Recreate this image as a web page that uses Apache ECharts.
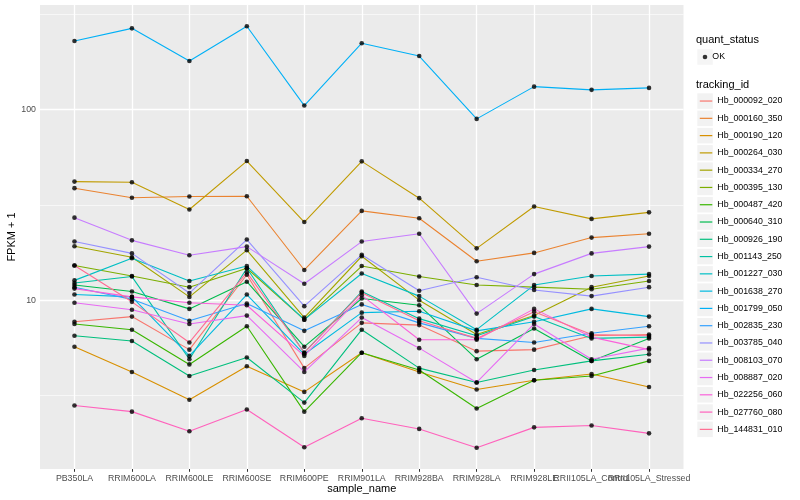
<!DOCTYPE html>
<html><head><meta charset="utf-8">
<script src="https://cdn.jsdelivr.net/npm/echarts@6/dist/echarts.min.js"></script>
<style>html,body{margin:0;padding:0;background:#fff}#c{width:800px;height:500px}</style>
</head><body><div id="c"></div>
<script>
const samples = ['PB350LA','RRIM600LA','RRIM600LE','RRIM600SE','RRIM600PE','RRIM901LA','RRIM928BA','RRIM928LA','RRIM928LE','RRII105LA_Control','RRII105LA_Stressed'];
const yTicks = [10, 100];
const trackingIds = ['Hb_000092_020','Hb_000160_350','Hb_000190_120','Hb_000264_030','Hb_000334_270','Hb_000395_130','Hb_000487_420','Hb_000640_310','Hb_000926_190','Hb_001143_250','Hb_001227_030','Hb_001638_270','Hb_001799_050','Hb_002835_230','Hb_003785_040','Hb_008103_070','Hb_008887_020','Hb_022256_060','Hb_027760_080','Hb_144831_010'];
const colors = ['#F8766D','#EA8331','#D89000','#C09B00','#A3A500','#7CAE00','#39B600','#00BB4E','#00BF7D','#00C1A3','#00BFC4','#00BAE0','#00B0F6','#35A2FF','#9590FF','#C77CFF','#E76BF3','#FA62DB','#FF62BC','#FF6C91'];

const hb_000092_020 = [7.7, 8.2, 5.5, 13.6, 4.4, 7.6, 7.4, 5.4, 5.5, 6.5, 6.6];
const hb_000160_350 = [38.7, 34.5, 35.0, 35.1, 14.4, 29.4, 26.9, 16.0, 17.7, 21.3, 22.3];
const hb_000190_120 = [5.7, 4.2, 3.0, 4.5, 3.3, 5.3, 4.2, 3.4, 3.8, 4.1, 3.5];
const hb_000264_030 = [41.9, 41.6, 29.9, 53.7, 25.7, 53.5, 34.3, 18.7, 31.0, 26.7, 28.9];
const hb_000334_270 = [19.2, 16.8, 10.4, 18.3, 8.1, 17.0, 10.0, 6.6, 8.3, 11.7, 13.4];
const hb_000395_130 = [15.2, 13.4, 11.7, 14.7, 7.9, 15.1, 13.3, 12.0, 11.7, 11.4, 12.6];
const hb_000487_420 = [7.5, 7.0, 4.6, 7.3, 2.6, 5.3, 4.3, 2.7, 3.8, 4.0, 4.8];
const hb_000640_310 = [12.0, 11.1, 9.0, 12.5, 5.7, 10.2, 9.4, 4.9, 7.1, 4.8, 6.3];
const hb_000926_190 = [6.5, 6.1, 4.0, 5.0, 2.9, 7.0, 4.4, 3.7, 4.3, 4.8, 5.2];
const hb_001143_250 = [12.3, 13.3, 4.9, 14.7, 5.3, 11.1, 8.0, 6.5, 8.2, 6.3, 6.4];
const hb_001227_030 = [12.7, 16.6, 12.6, 15.1, 7.9, 13.8, 10.5, 7.0, 12.0, 13.4, 13.7];
const hb_001638_270 = [10.7, 10.4, 5.1, 10.7, 5.2, 8.6, 8.75, 6.9, 7.7, 9.0, 8.2];
const hb_001799_050 = [229, 267, 180, 274, 105, 223, 191, 89.4, 132, 127, 130];
const hb_002835_230 = [11.7, 10.1, 7.8, 9.6, 6.9, 9.5, 7.6, 6.3, 6.0, 6.7, 7.3];
const hb_003785_040 = [20.3, 17.6, 10.9, 20.8, 9.3, 17.3, 11.2, 13.2, 11.3, 10.5, 11.7];
const hb_008103_070 = [27.1, 20.6, 17.2, 19.1, 12.2, 20.3, 22.3, 8.5, 13.7, 17.6, 19.1];
const hb_008887_020 = [9.7, 8.9, 7.5, 8.3, 4.2, 8.1, 5.6, 3.7, 7.5, 4.9, 5.6];
const hb_022256_060 = [11.5, 10.4, 9.7, 9.4, 5.1, 10.6, 6.2, 6.2, 9.0, 6.4, 5.5];
const hb_027760_080 = [2.8, 2.6, 2.05, 2.67, 1.69, 2.4, 2.11, 1.68, 2.15, 2.2, 2.0];
const hb_144831_010 = [15.2, 9.8, 6.0, 14.0, 5.3, 10.95, 7.8, 6.3, 8.7, 6.6, 6.5];

const seriesValues = [hb_000092_020, hb_000160_350, hb_000190_120, hb_000264_030, hb_000334_270, hb_000395_130, hb_000487_420, hb_000640_310, hb_000926_190, hb_001143_250, hb_001227_030, hb_001638_270, hb_001799_050, hb_002835_230, hb_003785_040, hb_008103_070, hb_008887_020, hb_022256_060, hb_027760_080, hb_144831_010];

const FONT = 'Liberation Sans, Arial, sans-serif';
const chart = echarts.init(document.getElementById('c'), null, {renderer: 'canvas'});

const series = [];
series.push({
  type: 'line', name: '__grid', data: [], silent: true, animation: false,
  markLine: {
    silent: true, animation: false, symbol: ['none', 'none'], z: 1,
    label: {show: false}, emphasis: {disabled: true},
    data: [].concat(
      samples.map((s, i) => ({xAxis: i, lineStyle: {color: '#fff', width: 1.3, type: 'solid'}})),
      yTicks.map(v => ({yAxis: v, lineStyle: {color: '#fff', width: 1.3, type: 'solid'}})),
      yTicks.concat([1000]).map(v => ({yAxis: v / Math.sqrt(10), lineStyle: {color: '#fff', width: 0.6, type: 'solid'}}))
    )
  }
});
seriesValues.forEach((arr, k) => {
  series.push({
    type: 'line', name: trackingIds[k], data: arr.map((v, i) => [i, v]),
    symbol: 'none', animation: false, z: 2,
    lineStyle: {color: colors[k], width: 1.1},
    itemStyle: {color: colors[k]},
    emphasis: {disabled: true}
  });
});
const pts = [];
seriesValues.forEach(arr => arr.forEach((v, i) => pts.push([i, v])));
series.push({
  type: 'scatter', name: 'OK', data: pts, symbol: 'circle', symbolSize: 4.6,
  itemStyle: {color: '#000'}, z: 3, animation: false, emphasis: {disabled: true}
});

const idx = samples.map((s, i) => i);
const labelStyle = {formatter: v => samples[Math.round(v)], fontFamily: FONT, fontSize: 8.8, color: '#4D4D4D', margin: 5,
  hideOverlap: false, showMinLabel: true, showMaxLabel: true};
const legendText = {fontFamily: FONT, fontSize: 8.8, color: '#000', lineHeight: 15.5};
chart.setOption({
  backgroundColor: '#fff',
  animation: false,
  textStyle: {fontFamily: FONT},
  title: [
    {text: 'quant_status', left: 696, top: 34, padding: 0, textStyle: {fontFamily: FONT, fontSize: 11, fontWeight: 'normal', color: '#000'}},
    {text: 'tracking_id', left: 696, top: 79, padding: 0, textStyle: {fontFamily: FONT, fontSize: 11, fontWeight: 'normal', color: '#000'}}
  ],
  grid: {left: 40, right: 116.5, top: 5, bottom: 31, show: true, backgroundColor: '#EBEBEB', borderWidth: 0, containLabel: false, outerBoundsMode: 'none'},
  xAxis: [{
    type: 'value', min: -0.6, max: 10.6, position: 'bottom',
    name: 'sample_name', nameLocation: 'middle', nameGap: 14, nameMoveOverlap: false,
    nameTextStyle: {fontFamily: FONT, fontSize: 11, color: '#000'},
    axisLine: {show: false},
    axisTick: {show: true, length: 2.8, lineStyle: {color: '#333333', width: 1}, customValues: idx},
    axisLabel: Object.assign({customValues: idx.filter(i => i % 2 === 0)}, labelStyle),
    splitLine: {show: false}
  }, {
    type: 'value', min: -0.6, max: 10.6, position: 'bottom', offset: 0,
    axisLine: {show: false}, axisTick: {show: false},
    axisLabel: Object.assign({customValues: idx.filter(i => i % 2 === 1)}, labelStyle),
    splitLine: {show: false}
  }],
  yAxis: {
    type: 'log', logBase: 10, min: 1.3, max: 354,
    name: 'FPKM + 1', nameLocation: 'middle', nameGap: 23, nameRotate: 90, nameMoveOverlap: false,
    nameTextStyle: {fontFamily: FONT, fontSize: 11, color: '#000'},
    axisLine: {show: false},
    axisTick: {show: true, length: 2.8, lineStyle: {color: '#333333', width: 1}, customValues: yTicks},
    axisLabel: {customValues: yTicks, fontFamily: FONT, fontSize: 8.8, color: '#4D4D4D', margin: 4},
    splitLine: {show: false}, minorTick: {show: false}, minorSplitLine: {show: false}
  },
  legend: [
    {data: ['OK'], orient: 'vertical', left: 697.3, top: 49.3, padding: 0, itemGap: 1.78, itemWidth: 15.5, itemHeight: 15.5, icon: 'rect',
     itemStyle: {color: '#F2F2F2', borderWidth: 0}, textStyle: Object.assign({}, legendText, {color: 'rgba(0,0,0,0)'}), selectedMode: false},
    {data: ['OK'], orient: 'vertical', left: 702.7, top: 49.3, padding: 0, itemGap: 1.78, itemWidth: 4.6, itemHeight: 4.6, icon: 'circle',
     itemTextGap: 9.7, itemStyle: {color: '#000', borderWidth: 0}, textStyle: legendText, selectedMode: false},
    {data: trackingIds, orient: 'vertical', left: 697.3, top: 93.3, padding: 0, itemGap: 1.78, itemWidth: 15.5, itemHeight: 15.5, icon: 'rect',
     itemStyle: {color: '#F2F2F2', borderWidth: 0}, textStyle: Object.assign({}, legendText, {color: 'rgba(0,0,0,0)'}), selectedMode: false},
    {data: trackingIds, orient: 'vertical', left: 699.8, top: 93.3, padding: 0, itemGap: 1.78, itemWidth: 12.5, itemHeight: 1.2, icon: 'rect',
     itemTextGap: 4.7, itemStyle: {borderWidth: 0}, textStyle: legendText, selectedMode: false}
  ],
  series: series
});
</script></body></html>
